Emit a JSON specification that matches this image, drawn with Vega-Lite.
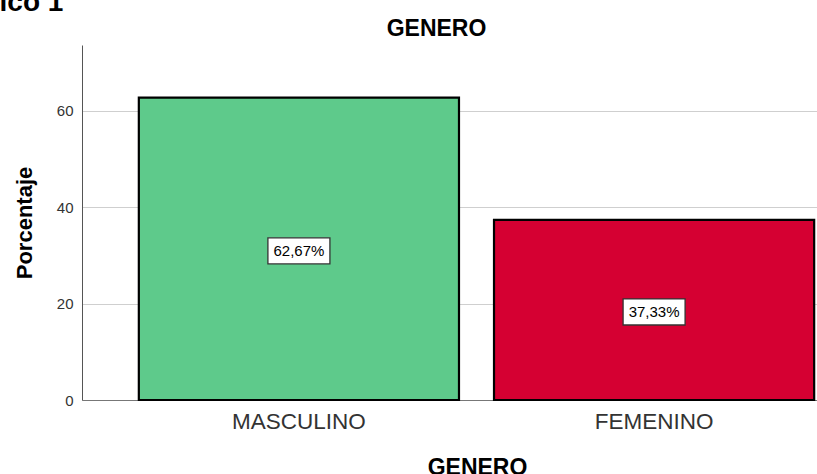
{
  "$schema": "https://vega.github.io/schema/vega-lite/v6.json",
  "width": 735,
  "height": 355,
  "autosize": {"type": "none"},
  "padding": {"left": 82, "top": 45, "right": 0, "bottom": 74},
  "background": "white",
  "title": {
    "text": "Gráfico 1",
    "anchor": "start",
    "frame": "group",
    "font": "Liberation Sans",
    "fontSize": 28,
    "fontWeight": "bold",
    "color": "black",
    "dx": -140,
    "offset": 0
  },
  "config": {
    "view": {"stroke": null},
    "font": "Liberation Sans"
  },
  "data": {
    "values": [
      {"genero": "MASCULINO", "porcentaje": 62.67, "etiqueta": "62,67%"},
      {"genero": "FEMENINO", "porcentaje": 37.33, "etiqueta": "37,33%"}
    ]
  },
  "resolve": {"scale": {"y": "independent"}, "axis": {"x": "independent", "y": "independent"}},
  "layer": [
    {
      "mark": {"type": "bar", "stroke": "black", "strokeWidth": 2.2, "opacity": 1},
      "encoding": {
        "x": {
          "field": "genero", "type": "nominal", "sort": null,
          "scale": {"range": [0, 789], "paddingInner": 0.0986, "paddingOuter": 0.16},
          "axis": {
            "orient": "bottom", "title": "GENERO", "labelAngle": 0,
            "ticks": false, "labelPadding": 10, "labelFontSize": 22.5, "labelColor": "#333",
            "labelFont": "Liberation Sans",
            "titleFontSize": 23, "titleFontWeight": "bold", "titleColor": "black",
            "titleFont": "Liberation Sans", "titlePadding": 24, "titleX": 395,
            "domainColor": "#777", "domainWidth": 1
          }
        },
        "y": {
          "field": "porcentaje", "type": "quantitative",
          "scale": {"domain": [0, 73.6], "nice": false},
          "axis": {
            "title": "Porcentaje", "values": [0, 20, 40, 60], "ticks": false,
            "labelPadding": 9, "labelFontSize": 15, "labelColor": "#333",
            "labelFont": "Liberation Sans",
            "titleFontSize": 22, "titleFontWeight": "bold", "titleColor": "black",
            "titleFont": "Liberation Sans", "titlePadding": 20,
            "domainColor": "#555", "domainWidth": 1,
            "grid": true, "gridColor": "#cfcfcf", "gridWidth": 1
          }
        },
        "color": {
          "field": "genero", "type": "nominal",
          "scale": {"domain": ["MASCULINO", "FEMENINO"], "range": ["#5ECA8B", "#D50032"]},
          "legend": null
        }
      }
    },
    {
      "mark": {
        "type": "point", "shape": "M-1,-0.42L1,-0.42L1,0.42L-1,0.42Z", "size": 3844,
        "filled": true, "fill": "white", "stroke": "#333", "strokeWidth": 1.3, "opacity": 1, "yOffset": 2
      },
      "encoding": {
        "x": {
          "field": "genero", "type": "nominal", "sort": null,
          "axis": {
            "orient": "top", "title": "GENERO", "labels": false, "ticks": false, "domain": false,
            "grid": false,
            "titleFontSize": 23, "titleFontWeight": "bold", "titleColor": "black",
            "titleFont": "Liberation Sans", "titlePadding": 5, "titleX": 354
          }
        },
        "y": {
          "field": "porcentaje", "type": "quantitative",
          "scale": {"domain": [0, 147.2], "nice": false},
          "axis": null
        }
      }
    },
    {
      "mark": {"type": "text", "fontSize": 15, "color": "black", "font": "Liberation Sans", "baseline": "middle", "align": "center", "yOffset": 2},
      "encoding": {
        "x": {"field": "genero", "type": "nominal", "sort": null, "axis": null},
        "y": {
          "field": "porcentaje", "type": "quantitative",
          "scale": {"domain": [0, 147.2], "nice": false},
          "axis": null
        },
        "text": {"field": "etiqueta"}
      }
    }
  ]
}
